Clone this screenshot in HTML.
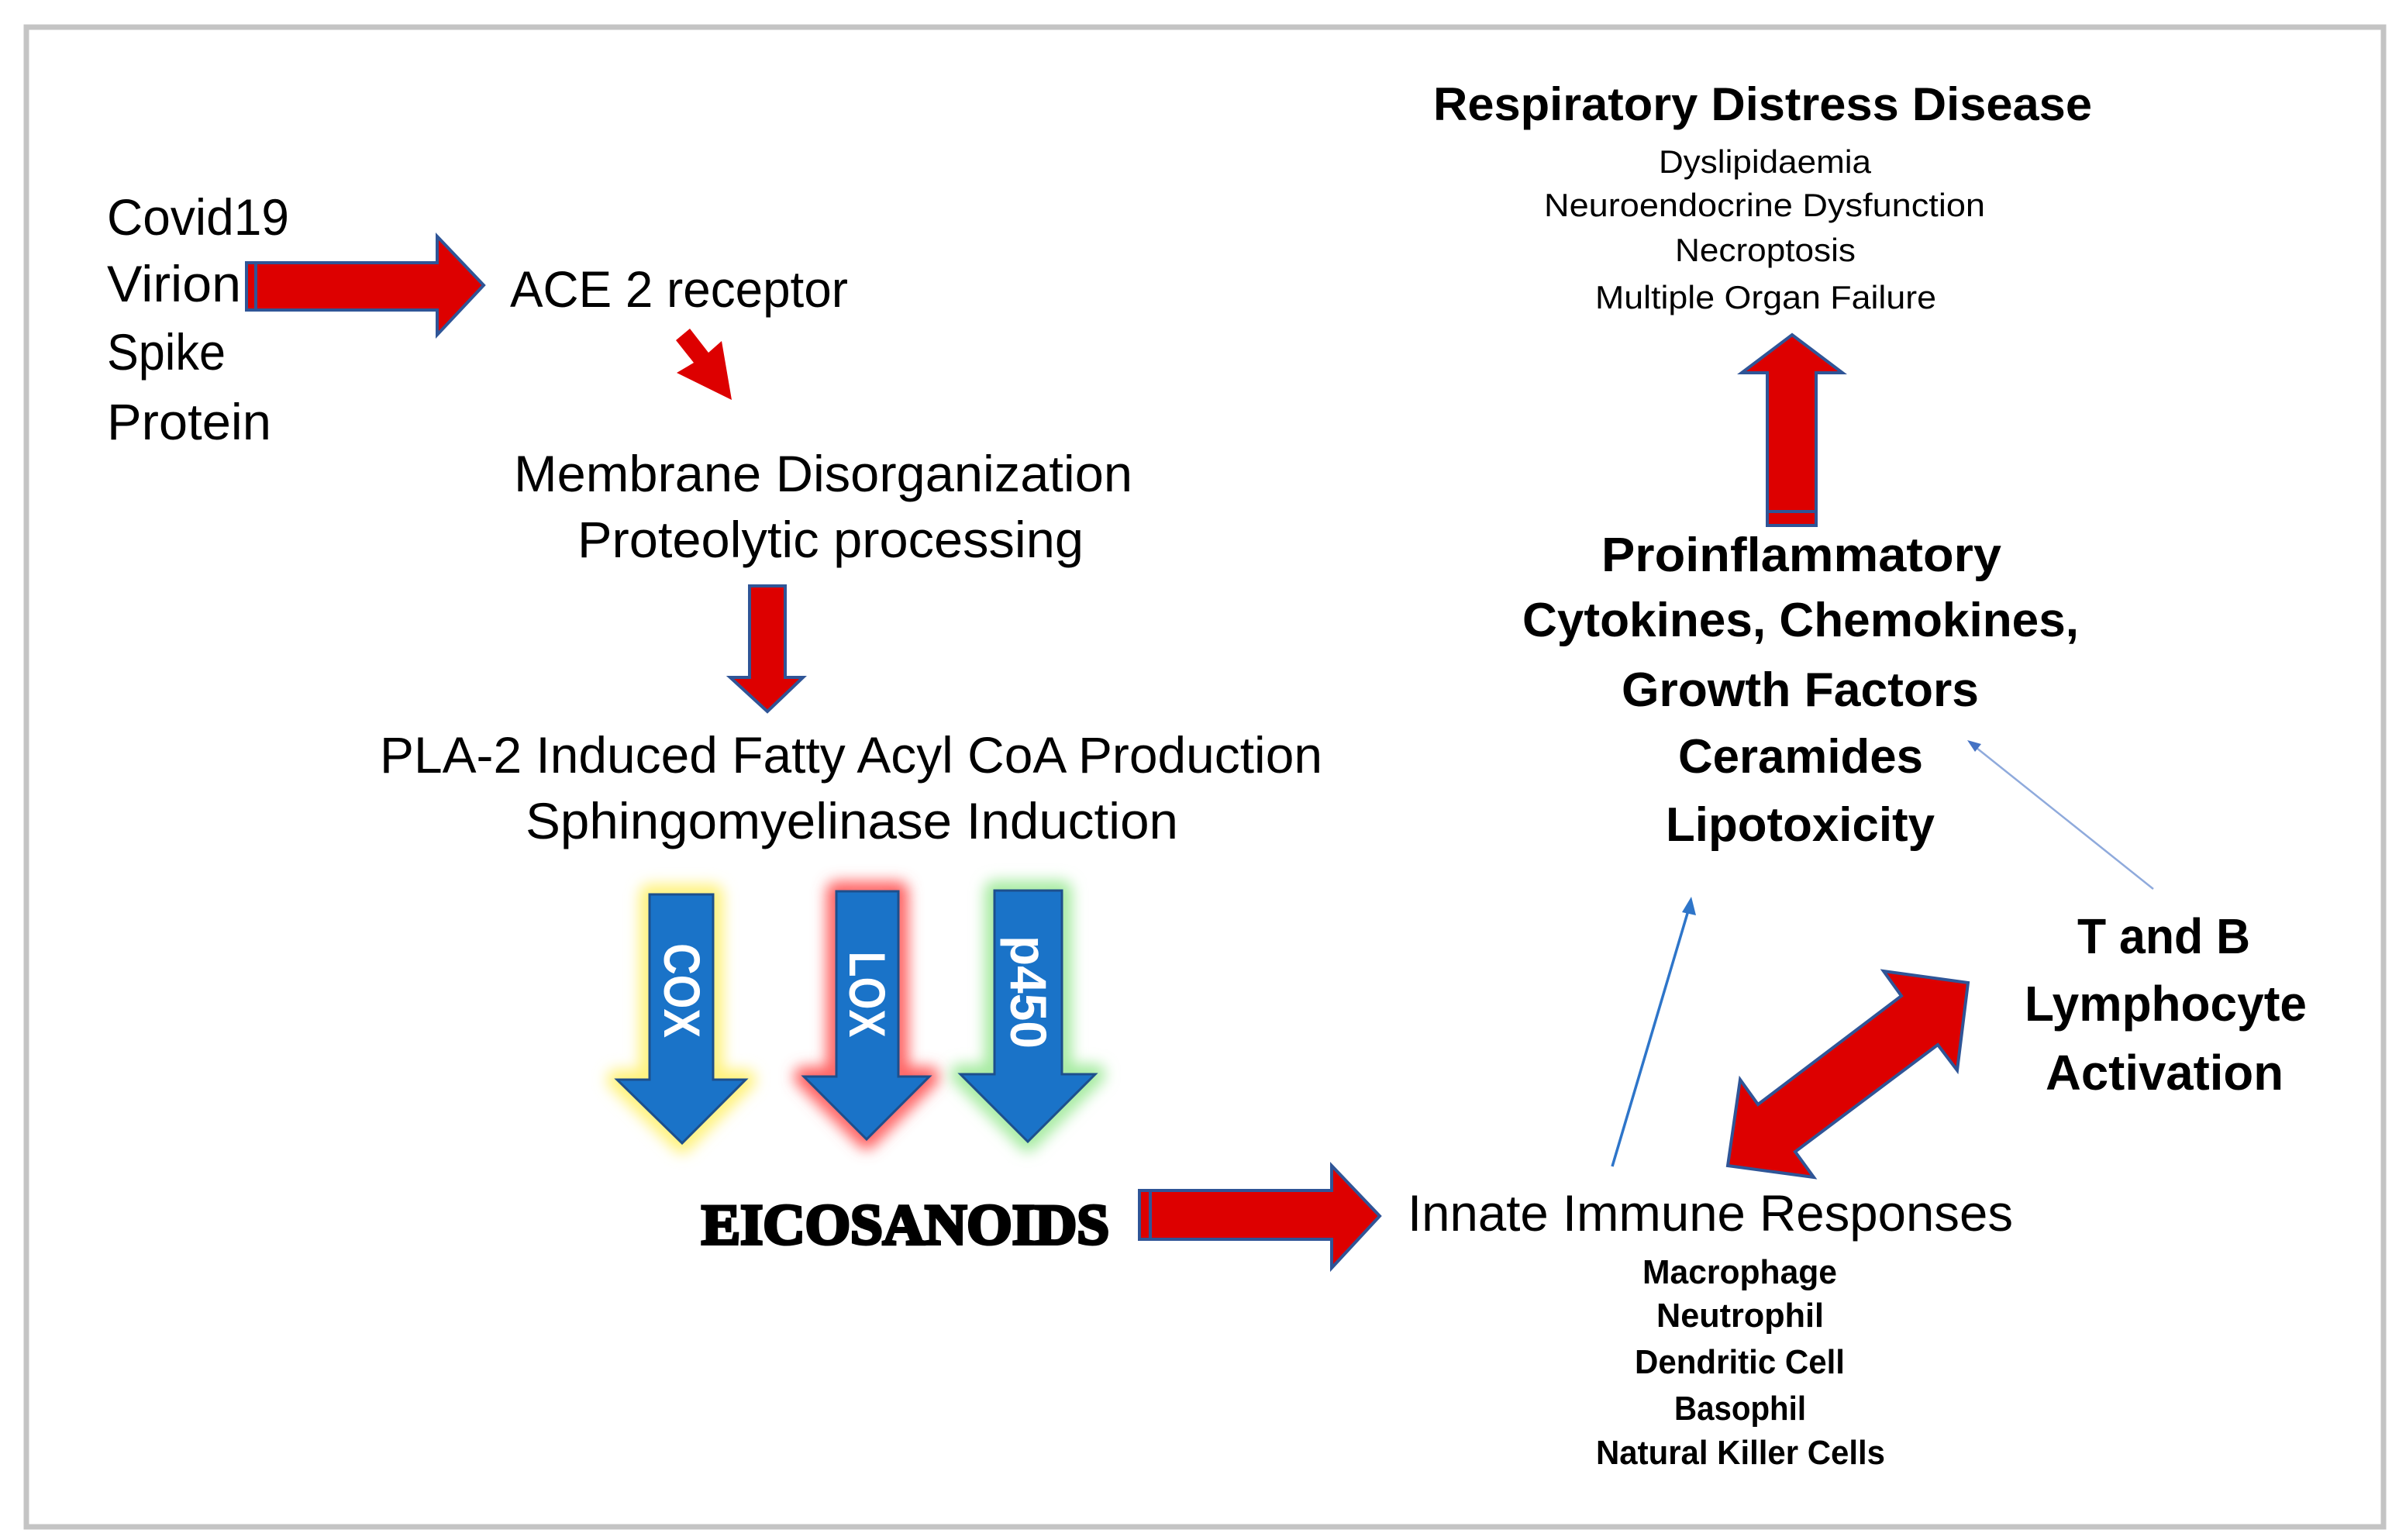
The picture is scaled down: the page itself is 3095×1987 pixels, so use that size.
<!DOCTYPE html>
<html><head><meta charset="utf-8"><style>
html,body{margin:0;padding:0;background:#fff}
svg{display:block}
text{font-family:"Liberation Sans",sans-serif;fill:#000}
.b{font-weight:bold}
</style></head><body>
<svg width="3095" height="1987" viewBox="0 0 3095 1987" xmlns="http://www.w3.org/2000/svg">
<defs>
<filter id="gl" x="-30%" y="-30%" width="160%" height="160%"><feGaussianBlur stdDeviation="9"/></filter>
</defs>
<rect x="0" y="0" width="3095" height="1987" fill="#fff"/>
<rect x="34" y="35" width="3041" height="1935" fill="none" stroke="#c4c4c4" stroke-width="7"/>

<!-- Left text -->
<text x="138" y="303" font-size="66" textLength="235" lengthAdjust="spacingAndGlyphs">Covid19</text>
<text x="138" y="389" font-size="66" textLength="173" lengthAdjust="spacingAndGlyphs">Virion</text>
<text x="138" y="477" font-size="66" textLength="153" lengthAdjust="spacingAndGlyphs">Spike</text>
<text x="138" y="567" font-size="66" textLength="212" lengthAdjust="spacingAndGlyphs">Protein</text>

<!-- arrow 1 -->
<polygon points="318,339 564,339 564,305 624,368 564,432 564,400 318,400" fill="#dd0000" stroke="#2f5597" stroke-width="4"/>
<line x1="330" y1="341" x2="330" y2="398" stroke="#2f5597" stroke-width="4"/>
<text x="658" y="396" font-size="66" textLength="436" lengthAdjust="spacingAndGlyphs">ACE 2 receptor</text>

<!-- diagonal small arrow -->
<polygon points="872,439 890,424 914,455 931,440 944,516 873,481 895,468" fill="#dd0000"/>

<text x="663" y="634" font-size="66" textLength="798" lengthAdjust="spacingAndGlyphs">Membrane Disorganization</text>
<text x="745" y="719" font-size="66" textLength="653" lengthAdjust="spacingAndGlyphs">Proteolytic processing</text>

<polygon points="967,756 1013,756 1013,874 1036,874 990,918 942,874 967,874" fill="#dd0000" stroke="#2f5597" stroke-width="4"/>

<text x="490" y="997" font-size="66" textLength="1216" lengthAdjust="spacingAndGlyphs">PLA-2 Induced Fatty Acyl CoA Production</text>
<text x="678" y="1082" font-size="66" textLength="842" lengthAdjust="spacingAndGlyphs">Sphingomyelinase Induction</text>

<!-- glows -->
<polygon points="838,1154 920,1154 920,1393 962,1393 880,1475 796,1393 838,1393" fill="none" stroke="#fff27a" stroke-width="26" stroke-linejoin="round" filter="url(#gl)"/>
<polygon points="1079,1150 1159,1150 1159,1389 1199,1389 1118,1470 1037,1389 1079,1389" fill="none" stroke="#ff6262" stroke-width="26" stroke-linejoin="round" filter="url(#gl)"/>
<polygon points="1283,1149 1370,1149 1370,1386 1413,1386 1326,1473 1239,1386 1283,1386" fill="none" stroke="#a6eba0" stroke-width="26" stroke-linejoin="round" filter="url(#gl)"/>
<!-- blue arrows -->
<polygon points="838,1154 920,1154 920,1393 962,1393 880,1475 796,1393 838,1393" fill="#1a73c8" stroke="#1d4f8c" stroke-width="3"/>
<polygon points="1079,1150 1159,1150 1159,1389 1199,1389 1118,1470 1037,1389 1079,1389" fill="#1a73c8" stroke="#1d4f8c" stroke-width="3"/>
<polygon points="1283,1149 1370,1149 1370,1386 1413,1386 1326,1473 1239,1386 1283,1386" fill="#1a73c8" stroke="#1d4f8c" stroke-width="3"/>
<g transform="translate(880,1278) rotate(90)"><text x="0" y="0" font-size="66" class="b" style="fill:#fff" text-anchor="middle" dominant-baseline="central" textLength="122" lengthAdjust="spacingAndGlyphs">COX</text></g>
<g transform="translate(1119,1283) rotate(90)"><text x="0" y="0" font-size="66" class="b" style="fill:#fff" text-anchor="middle" dominant-baseline="central" textLength="111" lengthAdjust="spacingAndGlyphs">LOX</text></g>
<g transform="translate(1327,1280) rotate(90)"><text x="0" y="0" font-size="66" class="b" style="fill:#fff" text-anchor="middle" dominant-baseline="central" textLength="146" lengthAdjust="spacingAndGlyphs">p450</text></g>

<text x="905" y="1605" font-size="74" font-weight="900" style="font-family:'Liberation Serif',serif" stroke="#000" stroke-width="4" textLength="526" lengthAdjust="spacingAndGlyphs">EICOSANOIDS</text>

<!-- arrow 2 -->
<polygon points="1470,1536 1718,1536 1718,1504 1780,1569 1718,1636 1718,1599 1470,1599" fill="#dd0000" stroke="#2f5597" stroke-width="4"/>
<line x1="1484" y1="1538" x2="1484" y2="1597" stroke="#2f5597" stroke-width="4"/>

<text x="1816" y="1588" font-size="66" textLength="781" lengthAdjust="spacingAndGlyphs">Innate Immune Responses</text>
<g class="b" font-size="44">
<text x="2119" y="1656" class="b" textLength="251" lengthAdjust="spacingAndGlyphs">Macrophage</text>
<text x="2137" y="1712" class="b" textLength="216" lengthAdjust="spacingAndGlyphs">Neutrophil</text>
<text x="2109" y="1772" class="b" textLength="271" lengthAdjust="spacingAndGlyphs">Dendritic Cell</text>
<text x="2160" y="1832" class="b" textLength="170" lengthAdjust="spacingAndGlyphs">Basophil</text>
<text x="2059" y="1889" class="b" textLength="373" lengthAdjust="spacingAndGlyphs">Natural Killer Cells</text>
</g>

<!-- right top -->
<text x="1849" y="155" font-size="60" class="b" textLength="850" lengthAdjust="spacingAndGlyphs">Respiratory Distress Disease</text>
<text x="2140" y="223" font-size="42" textLength="274" lengthAdjust="spacingAndGlyphs">Dyslipidaemia</text>
<text x="1992" y="279" font-size="42" textLength="569" lengthAdjust="spacingAndGlyphs">Neuroendocrine Dysfunction</text>
<text x="2161" y="337" font-size="42" textLength="233" lengthAdjust="spacingAndGlyphs">Necroptosis</text>
<text x="2058" y="398" font-size="42" textLength="440" lengthAdjust="spacingAndGlyphs">Multiple Organ Failure</text>

<polygon points="2312,432 2377,481 2343,481 2343,678 2280,678 2280,481 2247,481" fill="#dd0000" stroke="#2f5597" stroke-width="4"/>
<line x1="2282" y1="660" x2="2341" y2="660" stroke="#2f5597" stroke-width="4"/>

<g font-size="62">
<text x="2066" y="737" class="b" textLength="516" lengthAdjust="spacingAndGlyphs">Proinflammatory</text>
<text x="1964" y="821" class="b" textLength="718" lengthAdjust="spacingAndGlyphs">Cytokines, Chemokines,</text>
<text x="2092" y="911" class="b" textLength="461" lengthAdjust="spacingAndGlyphs">Growth Factors</text>
<text x="2165" y="997" class="b" textLength="316" lengthAdjust="spacingAndGlyphs">Ceramides</text>
<text x="2149" y="1085" class="b" textLength="347" lengthAdjust="spacingAndGlyphs">Lipotoxicity</text>
</g>

<!-- thin arrows -->
<line x1="2778" y1="1147" x2="2545" y2="961" stroke="#8faadc" stroke-width="2.5"/>
<polygon points="2538,955 2556,960 2548,970" fill="#4472c4"/>
<line x1="2080" y1="1505" x2="2178" y2="1175" stroke="#2e75c9" stroke-width="3.5"/>
<polygon points="2182,1157 2188,1181 2170,1177" fill="#2e75c9"/>

<!-- double arrow -->
<polygon points="2539,1268 2430,1253 2453,1285 2268,1425 2245,1393 2229,1504 2340,1519 2316,1486 2500,1348 2525,1381" fill="#dd0000" stroke="#2f5597" stroke-width="4" stroke-linejoin="miter"/>

<g font-size="64">
<text x="2680" y="1230" class="b" textLength="223" lengthAdjust="spacingAndGlyphs">T and B</text>
<text x="2612" y="1317" class="b" textLength="364" lengthAdjust="spacingAndGlyphs">Lymphocyte</text>
<text x="2639" y="1406" class="b" textLength="307" lengthAdjust="spacingAndGlyphs">Activation</text>
</g>
</svg>
</body></html>
